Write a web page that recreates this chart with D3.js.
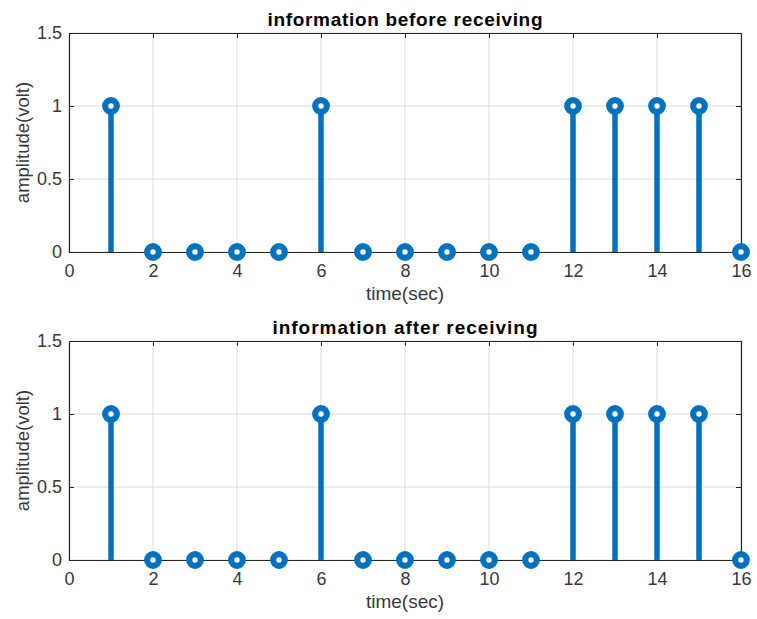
<!DOCTYPE html>
<html><head><meta charset="utf-8">
<script src="https://cdn.jsdelivr.net/npm/d3@7"></script>
<style>
body{margin:0;background:#fff;}
text{font-family:"Liberation Sans",Arial,Helvetica,sans-serif;}
</style></head>
<body><svg id="c" width="757" height="619"></svg>
<script>
const times = [1,2,3,4,5,6,7,8,9,10,11,12,13,14,15,16];
const sentBits = [1,0,0,0,0,1,0,0,0,0,0,1,1,1,1,0];
const receivedBits = [1,0,0,0,0,1,0,0,0,0,0,1,1,1,1,0];
const xTicks = [0,2,4,6,8,10,12,14,16];
const yTicks = [0,0.5,1,1.5];
const titles = ["information before receiving","information after receiving"];
const xLabel = "time(sec)";
const yLabel = "amplitude(volt)";

const svg = d3.select("#c");
const left = 69, right = 741;
const panels = [
  {top:33, bottom:252, data:sentBits, title:titles[0]},
  {top:341, bottom:560, data:receivedBits, title:titles[1]}
];
const blue = "#0072BD", axisCol = "#262626", tickCol = "#383838";

panels.forEach(p => {
  const x = d3.scaleLinear().domain([0,16]).range([left,right]);
  const y = d3.scaleLinear().domain([0,1.5]).range([p.bottom,p.top]);
  const g = svg.append("g");
  g.selectAll(".gx").data(xTicks).join("line")
    .attr("x1",d=>x(d)).attr("x2",d=>x(d)).attr("y1",p.top).attr("y2",p.bottom)
    .attr("stroke","#dedede").attr("stroke-width",1);
  g.selectAll(".gy").data(yTicks).join("line")
    .attr("y1",d=>y(d)).attr("y2",d=>y(d)).attr("x1",left).attr("x2",right)
    .attr("stroke","#dedede").attr("stroke-width",1);
  const xb = g.append("g").attr("transform",`translate(0,${p.bottom})`)
    .call(d3.axisBottom(x).tickValues(xTicks).tickSizeInner(-5).tickSizeOuter(0).tickPadding(12).tickFormat(d3.format("d")));
  const xt = g.append("g").attr("transform",`translate(0,${p.top})`)
    .call(d3.axisTop(x).tickValues(xTicks).tickSizeInner(-5).tickSizeOuter(0).tickFormat(""));
  const yl = g.append("g").attr("transform",`translate(${left},0)`)
    .call(d3.axisLeft(y).tickValues(yTicks).tickSizeInner(-5).tickSizeOuter(0).tickPadding(7).tickFormat(d=>String(d)));
  const yr = g.append("g").attr("transform",`translate(${right},0)`)
    .call(d3.axisRight(y).tickValues(yTicks).tickSizeInner(-5).tickSizeOuter(0).tickFormat(""));
  [xb,xt,yl,yr].forEach(a=>{
    a.select(".domain").attr("stroke",axisCol).attr("stroke-width",1.2);
    a.selectAll(".tick line").attr("stroke",axisCol);
    a.selectAll("text").attr("fill",tickCol).style("font-size","18px").style("font-family","'Liberation Sans',Arial,sans-serif");
  });
  xb.selectAll(".tick text").attr("dy","0.71em");
  const pts = times.map((t,i)=>({t:t,v:p.data[i]}));
  g.selectAll(".stem").data(pts.filter(d=>d.v!==0)).join("line")
    .attr("x1",d=>x(d.t)).attr("x2",d=>x(d.t)).attr("y1",y(0)).attr("y2",d=>y(d.v))
    .attr("stroke",blue).attr("stroke-width",5.5);
  g.selectAll(".mk").data(pts).join("circle")
    .attr("cx",d=>x(d.t)).attr("cy",d=>y(d.v)).attr("r",5.8)
    .attr("fill","#fff").attr("stroke",blue).attr("stroke-width",6.2);
  g.append("text").attr("x",(left+right)/2).attr("y",p.top-7).attr("text-anchor","middle")
    .attr("fill","#000").style("font-weight","bold").style("font-size","19px")
    .attr("textLength", p.title.length>27?275:265).attr("lengthAdjust","spacing").text(p.title);
  g.append("text").attr("x",(left+right)/2).attr("y",p.bottom+48).attr("text-anchor","middle")
    .attr("fill",tickCol).style("font-size","19px").text(xLabel);
  g.append("text").attr("transform",`translate(29,${(p.top+p.bottom)/2}) rotate(-90)`).attr("text-anchor","middle")
    .attr("fill",tickCol).style("font-size","18.5px").text(yLabel);
});
</script></body></html>
